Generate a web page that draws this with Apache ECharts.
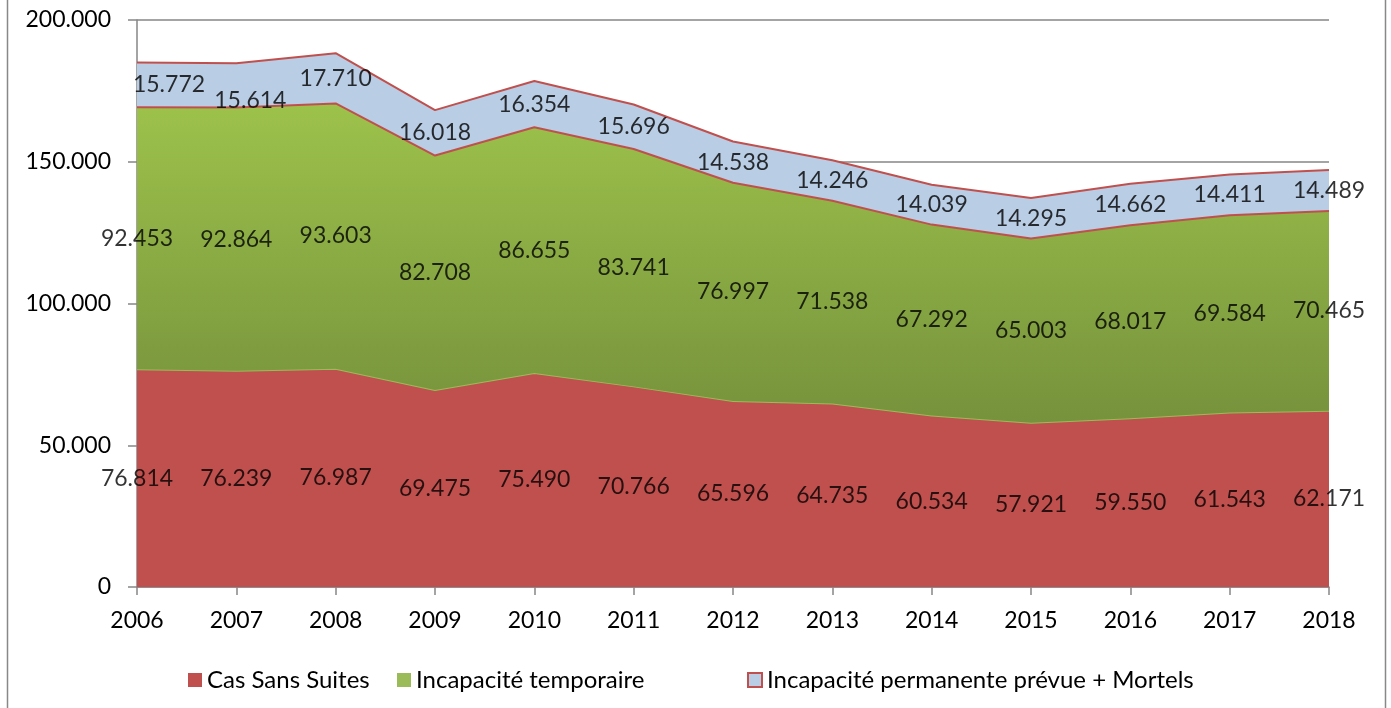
<!DOCTYPE html>
<html>
<head>
<meta charset="utf-8">
<script src="https://cdn.jsdelivr.net/npm/echarts@6/dist/echarts.min.js"></script>
<style>
html,body{margin:0;padding:0;background:#fff;}
#c{width:1391px;height:708px;}
</style>
</head>
<body>
<div id="c"></div>
<script>
var years = ['2006','2007','2008','2009','2010','2011','2012','2013','2014','2015','2016','2017','2018'];
var casSansSuites = [76814,76239,76987,69475,75490,70766,65596,64735,60534,57921,59550,61543,62171];
var incapTemporaire = [92453,92864,93603,82708,86655,83741,76997,71538,67292,65003,68017,69584,70465];
var incapPermanente = [15772,15614,17710,16018,16354,15696,14538,14246,14039,14295,14662,14411,14489];
var seriesNames = ['Cas Sans Suites','Incapacité temporaire','Incapacité permanente prévue + Mortels'];

var FONT = 'Lato';
var FS = 23;
function fmt(v){ return String(v).replace(/\B(?=(\d{3})+(?!\d))/g,'.'); }

// manual label nudges as in the original (series index, point index) -> [dx, dy]
var labelNudge = {'2_0':[32,0], '2_1':[14,15]};

function mids(si, base, vals){
  return vals.map(function(v,i){
    var item = {value:[i, base[i] + v/2, v]};
    var n = labelNudge[si + '_' + i];
    if(n){ item.label = {offset:n}; }
    return item;
  });
}
var zeros = years.map(function(){return 0;});
var cum1 = casSansSuites.slice();
var cum2 = casSansSuites.map(function(v,i){return v + incapTemporaire[i];});
var labelData = mids(0, zeros, casSansSuites).concat(mids(1, cum1, incapTemporaire)).concat(mids(2, cum2, incapPermanente));

var chart = echarts.init(document.getElementById('c'), null, {renderer:'canvas'});
function legendAt(left, item, fs){
  return {
    orient:'horizontal', top:668, left:left, padding:0, itemWidth:14, itemHeight:14, itemGap:5, icon:'rect',
    textStyle:{fontFamily:FONT, fontSize:fs, color:'#000'}, data:[item]
  };
}
chart.setOption({
  animation:false,
  textStyle:{fontFamily:FONT},
  graphic:[{type:'rect', shape:{x:7.5, y:-2, width:1378, height:713}, style:{fill:'none', stroke:'#888', lineWidth:1.5}, silent:true}],
  legend:[
    legendAt(188, {name:seriesNames[0]}, 24),
    legendAt(397, {name:seriesNames[1]}, 24),
    legendAt(747, {name:seriesNames[2], itemStyle:{borderColor:'#C0504D', borderWidth:2}}, 24)
  ],
  grid:{left:137, right:62, top:20, bottom:121, containLabel:false},
  xAxis:{
    type:'category', data:years, boundaryGap:false,
    axisLine:{lineStyle:{color:'#868686', width:1.5}},
    axisTick:{show:true, length:8, alignWithLabel:true, lineStyle:{color:'#868686', width:1.5}},
    axisLabel:{color:'#000', fontSize:FS, fontFamily:FONT, margin:22},
    splitLine:{show:false}
  },
  yAxis:{
    type:'value', min:0, max:200000, interval:50000,
    axisLine:{show:true, lineStyle:{color:'#868686', width:1.5}},
    axisTick:{show:true, length:9, lineStyle:{color:'#868686', width:1.5}},
    axisLabel:{color:'#000', fontSize:FS, fontFamily:FONT, margin:26, formatter:function(v){return fmt(v);}},
    splitLine:{show:true, lineStyle:{color:'#868686', width:1.5}}
  },
  series:[
    {name:seriesNames[0], type:'line', stack:'t', data:casSansSuites, symbol:'none',
     itemStyle:{color:'#C0504D'},
     lineStyle:{color:'#9BBB59', width:2},
     areaStyle:{color:'#C0504D', opacity:1}, z:2},
    {name:seriesNames[1], type:'line', stack:'t', data:incapTemporaire, symbol:'none',
     itemStyle:{color:'#9BBB59'},
     lineStyle:{color:'#C0504D', width:2},
     areaStyle:{opacity:1, color:new echarts.graphic.LinearGradient(0,0,0,1,[{offset:0,color:'#9DC24B'},{offset:1,color:'#76923C'}])}, z:3},
    {name:seriesNames[2], type:'line', stack:'t', data:incapPermanente, symbol:'none',
     itemStyle:{color:'#B9CDE5'},
     lineStyle:{color:'#C0504D', width:2},
     areaStyle:{color:'#B9CDE5', opacity:1}, z:1},
    {name:'labels', type:'scatter', data:labelData, symbolSize:0, silent:true, z:10,
     label:{show:true, position:'inside', color:'#000', fontSize:FS, fontFamily:FONT,
       formatter:function(p){return fmt(p.value[2]);}}}
  ]
});
</script>
</body>
</html>
